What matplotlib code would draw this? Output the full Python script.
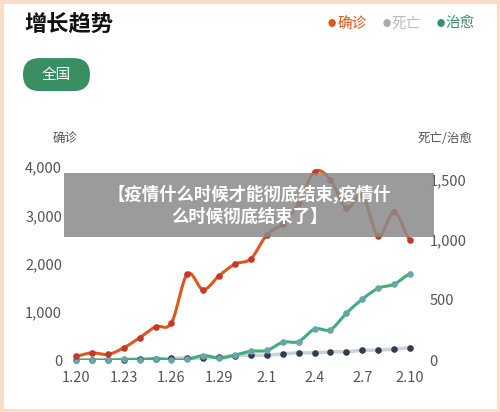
import numpy as np
import matplotlib.pyplot as plt
from matplotlib.patches import FancyBboxPatch, Rectangle

plt.rcParams['font.family'] = ['Noto Sans CJK SC', 'DejaVu Sans']

dates = ['1.20', '1.21', '1.22', '1.23', '1.24', '1.25', '1.26', '1.27', '1.28', '1.29', '1.30',
         '1.31', '2.1', '2.2', '2.3', '2.4', '2.5', '2.6', '2.7', '2.8', '2.9', '2.10']
confirmed = [83, 150, 117, 255, 462, 690, 772, 1786, 1462, 1752, 1993,
             2103, 2600, 2830, 3255, 3910, 3740, 3150, 3430, 2565, 3080, 2497]
deaths = [0, 0, 0, 3, 11, 11, 16, 19, 16, 27, 38,
          41, 41, 52, 60, 60, 69, 69, 82, 82, 91, 102]
cured = [0, 0, 0, 5, 3, 11, 2, 5, 38, 16, 41,
         74, 80, 148, 154, 258, 253, 390, 505, 596, 629, 714]
tick_idx = [0, 3, 6, 9, 12, 15, 18, 21]


def smooth(y, n=12):
    # catmull-rom just for drawing the curve between the points
    y = np.asarray(y, float)
    p = np.concatenate([[y[0]], y, [y[-1]]])
    xs, ys = [], []
    for i in range(len(y) - 1):
        t = np.linspace(0, 1, n, endpoint=False)
        p0, p1, p2, p3 = p[i], p[i + 1], p[i + 2], p[i + 3]
        ys.append(0.5 * (2 * p1 + (-p0 + p2) * t + (2 * p0 - 5 * p1 + 4 * p2 - p3) * t ** 2
                         + (-p0 + 3 * p1 - 3 * p2 + p3) * t ** 3))
        xs.append(i + t)
    xs.append([len(y) - 1]); ys.append([y[-1]])
    return np.concatenate(xs), np.concatenate(ys)


fig = plt.figure(figsize=(5, 4.12), dpi=100)
fig.patch.set_facecolor('white')
fig.patches.append(Rectangle((0, 0), 1, 1, transform=fig.transFigure, fill=False,
                             edgecolor='#fbdcc8', linewidth=5))

ax = fig.add_axes([0.152, 0.126, 0.668, 0.468])
ax2 = ax.twinx()
x = np.arange(len(dates))

sx, sy = smooth(deaths)
ax2.plot(sx, sy, color='#d0d0d0', lw=2.5, zorder=2)
ax2.scatter(x, deaths, s=14, color='#2c3e50', zorder=3, clip_on=False)
sx, sy = smooth(cured)
ax2.plot(sx, sy, color='#3fae7a', lw=2.2, zorder=2)
ax2.scatter(x, cured, s=14, color='#6aa5a8', zorder=3, clip_on=False)
sx, sy = smooth(confirmed)
ax.plot(sx, sy, color='#e0561f', lw=2.2, zorder=2)
ax.scatter(x, confirmed, s=14, color='#c0392b', zorder=3, clip_on=False)

ax.set_ylim(0, 4000)
ax2.set_ylim(0, 1600)
ax.set_xlim(0, 21)
ax.set_yticks([0, 1000, 2000, 3000, 4000])
ax.set_yticklabels(['0', '1,000', '2,000', '3,000', '4,000'])
ax2.set_yticks([0, 500, 1000, 1500])
ax2.set_yticklabels(['0', '500', '1,000', '1,500'])
ax.set_xticks(tick_idx)
ax.set_xticklabels([dates[i] for i in tick_idx])
for a in (ax, ax2):
    for s in a.spines.values():
        s.set_visible(False)
    a.tick_params(length=0, labelsize=10.5, colors='#555555')
ax.tick_params(axis='y', pad=10)
ax2.tick_params(axis='y', pad=14)
ax.tick_params(axis='x', pad=8)
ax.set_zorder(ax2.get_zorder() + 1)
ax.patch.set_visible(False)

fig.text(0.105, 0.655, '确诊', fontsize=9, color='#555555')
fig.text(0.945, 0.655, '死亡/治愈', fontsize=9, color='#555555', ha='right')

fig.text(0.048, 0.94, '增长趋势', fontsize=16, fontweight='bold', color='#111111', va='center')
for xp, lab, c, tc in [(0.656, '确诊', '#e0561f', '#e0561f'), (0.765, '死亡', '#aaaaaa', '#bbbbbb'),
                       (0.873, '治愈', '#3a8f62', '#3a8f62')]:
    fig.text(xp, 0.943, '●', fontsize=6, color=c, va='center')
    fig.text(xp + 0.018, 0.943, lab, fontsize=10.5, color=tc, va='center')

fig.patches.append(FancyBboxPatch((0.046, 0.779), 0.134, 0.08, transform=fig.transFigure,
                                  boxstyle='round,pad=0,rounding_size=0.033',
                                  facecolor='#3a8f62', edgecolor='none',
                                  mutation_aspect=1.21))
fig.text(0.113, 0.819, '全国', fontsize=10.5, color='white', ha='center', va='center')

fig.patches.append(Rectangle((0.128, 0.425), 0.74, 0.155, transform=fig.transFigure,
                             facecolor='#8a8a8a', alpha=0.85, edgecolor='none', zorder=10))
fig.text(0.498, 0.502, '【疫情什么时候才能彻底结束,疫情什\n么时候彻底结束了】', fontsize=12.5,
         fontweight='bold', color='white', ha='center', va='center', linespacing=1.3, zorder=11)

fig.savefig('out.png', dpi=100)
